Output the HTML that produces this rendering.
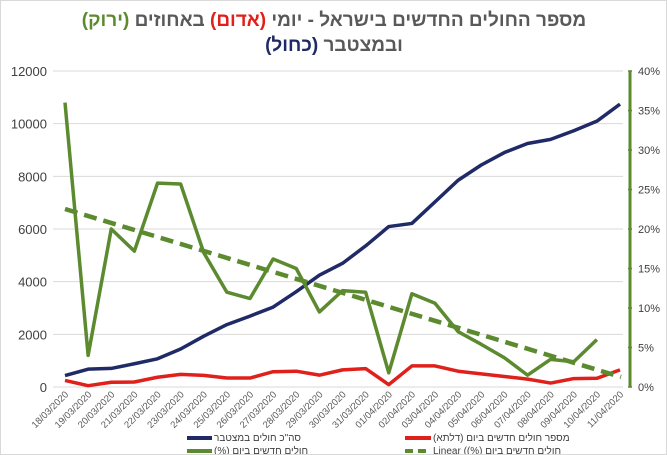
<!DOCTYPE html>
<html><head><meta charset="utf-8"><style>
body{margin:0;background:#fff;}
.wrap{width:665px;height:453px;border:1px solid #d9d9d9;position:relative;overflow:hidden;background:#fff}
.lg{position:absolute;font:10px "Liberation Sans","DejaVu Sans",sans-serif;color:#404040;white-space:nowrap;text-align:left;line-height:13px}
</style></head><body><div class="wrap">
<svg id="s" width="665" height="453" xmlns="http://www.w3.org/2000/svg" font-family="Liberation Sans, DejaVu Sans, sans-serif">
<text x="333" y="25" text-anchor="middle" font-size="19" font-weight="bold" fill="#595959" direction="rtl">מספר החולים החדשים בישראל - יומי <tspan fill="#e0201b">(אדום)</tspan> באחוזים <tspan fill="#5b8a2f">(ירוק)</tspan></text>
<text x="333" y="50" text-anchor="middle" font-size="19" font-weight="bold" fill="#595959" direction="rtl">ובמצטבר <tspan fill="#1f2a66">(כחול)</tspan></text>
<g id="g"></g>
</svg>
<div class="lg" style="left:213px;top:431px"><span dir="rtl">סה"כ חולים במצטבר</span></div>
<div class="lg" style="left:432px;top:431px"><span dir="rtl">מספר חולים חדשים ביום (דלתא)</span></div>
<div class="lg" style="left:213px;top:444px"><span dir="rtl">חולים חדשים ביום (%)</span></div>
<div class="lg" style="left:432px;top:444px"><span dir="rtl">חולים חדשים ביום (%)) Linear</span></div>
</div>
<script>
var g=document.getElementById('g'),h='';
function Y(v){return 386-v*(316/12000);}
function P(p){return 386-p*(316/40);}
function X(i){return 64+i*23.125;}
for(var k=0;k<=6;k++){var y=Y(k*2000);h+='<line x1="52" x2="622" y1="'+y+'" y2="'+y+'" stroke="#d9d9d9"/>';
h+='<text x="46" y="'+(y+5)+'" text-anchor="end" font-size="13" fill="#404040">'+(k*2000)+'</text>';}
for(var k=0;k<=8;k++){var y=P(k*5);h+='<line x1="627" x2="631" y1="'+y+'" y2="'+y+'" stroke="#5b8a2f" stroke-width="1.5"/><text x="637" y="'+(y+4)+'" font-size="11" fill="#404040">'+(k*5)+'%</text>';}
h+='<line x1="629" x2="629" y1="70" y2="386" stroke="#5b8a2f" stroke-width="3"/>';
var d=['18','19','20','21','22','23','24','25','26','27','28','29','30','31'];
var labels=[];for(var i=0;i<14;i++)labels.push(d[i]+'/03/2020');for(var i=1;i<=11;i++)labels.push((i<10?'0':'')+i+'/04/2020');
labels.forEach(function(l,i){var x=X(i)+4;h+='<text transform="translate('+x+',394) rotate(-45)" text-anchor="end" font-size="9.5" fill="#595959">'+l+'</text>';});
function line(vals,f,c,w,dash){var p=vals.map(function(v,i){return X(i)+','+f(v)}).join(' ');h+='<polyline points="'+p+'" fill="none" stroke="'+c+'" stroke-width="'+w+'" stroke-linejoin="round"'+(dash?' stroke-dasharray="'+dash+'"':'')+'/>';}
var blue=[433,677,705,883,1071,1442,1930,2369,2693,3035,3619,4247,4695,5358,6092,6211,7030,7851,8430,8904,9248,9404,9730,10095,10743];
var red=[250,50,180,190,370,480,440,340,340,580,600,450,650,700,90,800,800,600,500,400,300,150,320,330,650];
var gr=[36,4,20,17.2,25.8,25.7,17,12,11.2,16.2,15,9.5,12.2,12,1.8,11.8,10.6,7,5.4,3.7,1.5,3.5,3.2,6];
line(blue,Y,'#1f2a66',3.5);line(red,Y,'#e0201b',3.5);line(gr,P,'#5b8a2f',3.5);
h+='<line x1="64" y1="208" x2="620" y2="376" stroke="#5b8a2f" stroke-width="4.5" stroke-dasharray="13,7"/>';
h+='<line x1="186" x2="211" y1="437" y2="437" stroke="#1f2a66" stroke-width="4"/>';
h+='<line x1="404" x2="430" y1="437" y2="437" stroke="#e0201b" stroke-width="4"/>';
h+='<line x1="186" x2="211" y1="450" y2="450" stroke="#5b8a2f" stroke-width="4"/>';
h+='<line x1="404" x2="430" y1="450" y2="450" stroke="#5b8a2f" stroke-width="4" stroke-dasharray="8,5"/>';
g.innerHTML=h;
</script></body></html>
